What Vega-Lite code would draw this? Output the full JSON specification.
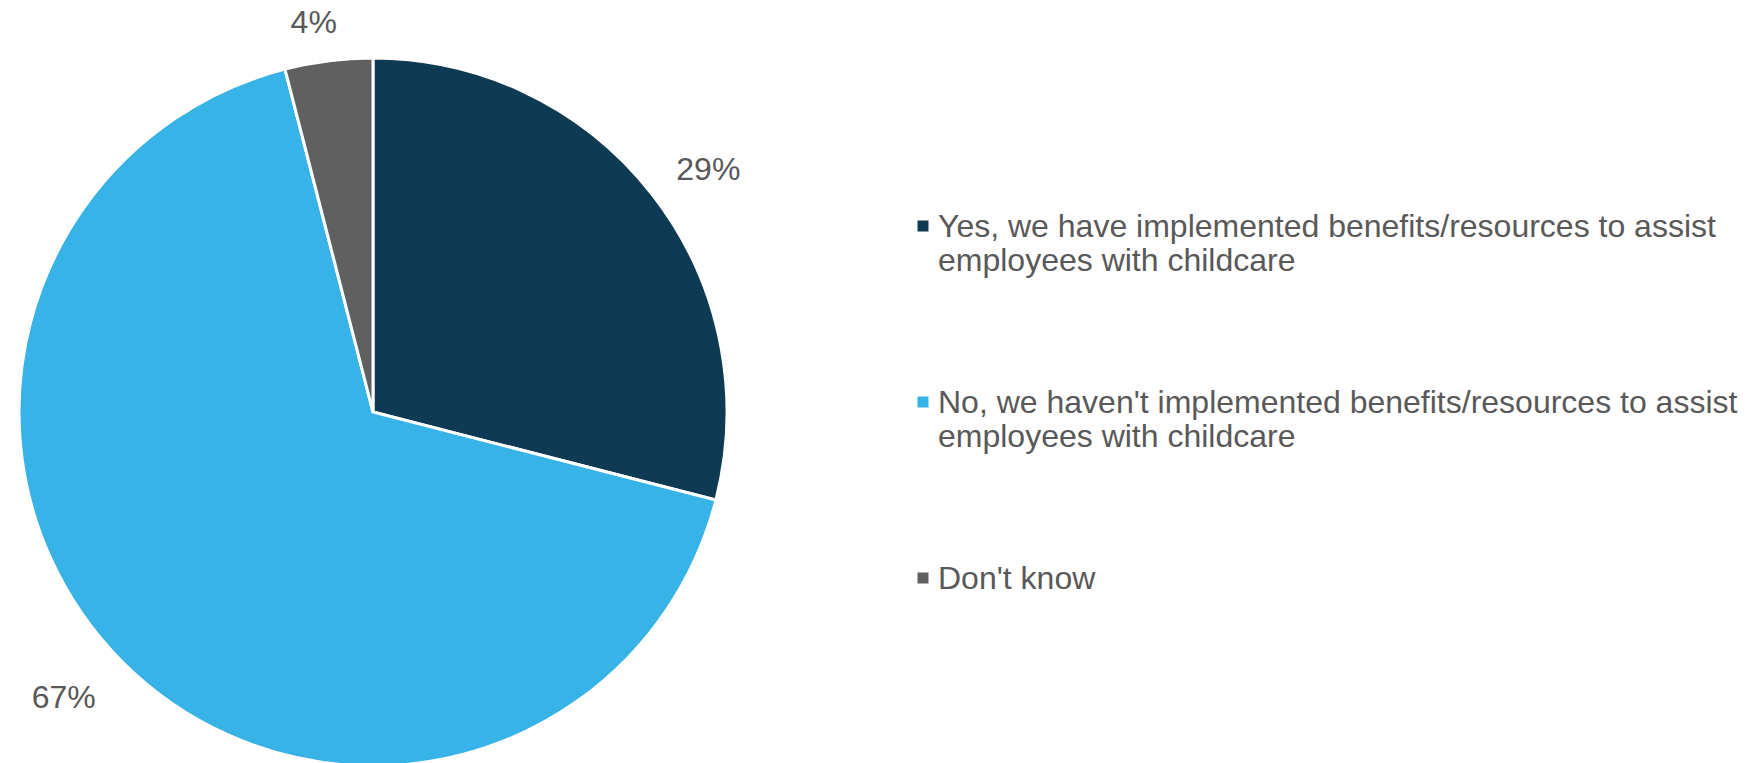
{
  "$schema": "https://vega.github.io/schema/vega-lite/v6.json",
  "width": 708,
  "height": 708,
  "autosize": "none",
  "padding": {"left": 19, "top": 58, "right": 1023, "bottom": 0},
  "background": "white",
  "config": {"view": {"stroke": null}, "font": "Liberation Sans"},
  "data": {
    "values": [
      {"answer": "Yes, we have implemented benefits/resources to assist employees with childcare", "share": 29, "label": "29%", "idx": 1},
      {"answer": "No, we haven't implemented benefits/resources to assist employees with childcare", "share": 67, "label": "67%", "idx": 2},
      {"answer": "Don't know", "share": 4, "label": "4%", "idx": 3}
    ]
  },
  "encoding": {
    "theta": {"field": "share", "type": "quantitative", "stack": true},
    "order": {"field": "idx", "type": "quantitative"}
  },
  "layer": [
    {
      "mark": {"type": "arc", "stroke": "white", "strokeWidth": 3},
      "encoding": {
        "color": {
          "field": "answer",
          "type": "nominal",
          "scale": {
            "domain": [
              "Yes, we have implemented benefits/resources to assist employees with childcare",
              "No, we haven't implemented benefits/resources to assist employees with childcare",
              "Don't know"
            ],
            "range": ["#0F3A53", "#37B3E8", "#606060"]
          },
          "legend": {
            "title": null,
            "orient": "none",
            "legendX": 888,
            "legendY": 138,
            "symbolType": "M-1,1.545H1V3.545H-1Z",
            "symbolSize": 121,
            "symbolStrokeWidth": 0,
            "labelFont": "Liberation Sans",
            "labelFontSize": 32,
            "labelColor": "#595959",
            "labelLimit": 1000,
            "labelOffset": -1,
            "labelBaseline": "top",
            "rowPadding": 95,
            "padding": 0,
            "labelExpr": "indexof(datum.label, ' employees') > 0 ? [replace(datum.label, ' employees with childcare', ''), 'employees with childcare'] : datum.label"
          }
        }
      }
    },
    {
      "mark": {"type": "text", "radius": 413, "dx": 9, "dy": 11, "fontSize": 32, "font": "Liberation Sans", "color": "#595959"},
      "encoding": {
        "text": {"field": "label"},
        "opacity": {"condition": {"test": "datum.idx == 1", "value": 1}, "value": 0}
      }
    },
    {
      "mark": {"type": "text", "radius": 419, "dx": -13, "dy": -10, "fontSize": 32, "font": "Liberation Sans", "color": "#595959"},
      "encoding": {
        "text": {"field": "label"},
        "opacity": {"condition": {"test": "datum.idx == 2", "value": 1}, "value": 0}
      }
    },
    {
      "mark": {"type": "text", "radius": 393, "dx": -10, "dy": 1, "fontSize": 32, "font": "Liberation Sans", "color": "#595959"},
      "encoding": {
        "text": {"field": "label"},
        "opacity": {"condition": {"test": "datum.idx == 3", "value": 1}, "value": 0}
      }
    }
  ]
}
